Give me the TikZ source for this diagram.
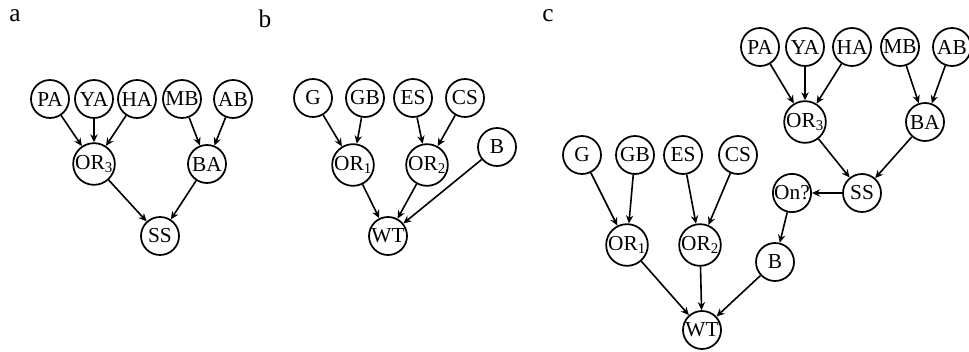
\documentclass[tikz,border=0pt]{standalone}
\usepackage{fontspec}
\setmainfont{Liberation Serif}
\usetikzlibrary{arrows.meta}
\begin{document}
\begin{tikzpicture}[x=0.75pt,y=-0.75pt,
  var/.style={circle,draw,line width=1.3pt,minimum size=28.5pt,inner sep=0pt,font=\fontsize{16}{18}\selectfont},
  edge/.style={-{Stealth[length=6pt,width=5.5pt]},line width=1.2pt},
  panel/.style={font=\fontsize{19}{21}\selectfont}]
\useasboundingbox (0,0) rectangle (969,352);

% panel labels
\node[panel] (la) at (15,16) {a};
\node[panel] (lb) at (265,19) {b};
\node[panel] (lc) at (548,16) {c};

% (a) sensor-based subnetwork
\node[var] (aPA) at (50,99) {PA};
\node[var] (aYA) at (94,99) {YA};
\node[var] (aHA) at (137,99) {HA};
\node[var] (aMB) at (182,99) {MB};
\node[var] (aAB) at (233,99) {AB};
\node[var] (aOR) at (94,164) {OR\textsubscript{3}};
\node[var] (aBA) at (207,164) {BA};
\node[var] (aSS) at (160,236) {SS};
\foreach \s in {aPA,aYA,aHA} \draw[edge] (\s) -- (aOR);
\foreach \s in {aMB,aAB} \draw[edge] (\s) -- (aBA);
\draw[edge] (aOR) -- (aSS);
\draw[edge] (aBA) -- (aSS);

% (b) water-temperature subnetwork
\node[var] (bG) at (313,98) {G};
\node[var] (bGB) at (365,98) {GB};
\node[var] (bES) at (413,98) {ES};
\node[var] (bCS) at (465,98) {CS};
\node[var] (bB) at (497,147) {B};
\node[var] (bORa) at (353,165) {OR\textsubscript{1}};
\node[var] (bORb) at (427,165) {OR\textsubscript{2}};
\node[var] (bWT) at (388,236) {WT};
\foreach \s in {bG,bGB} \draw[edge] (\s) -- (bORa);
\foreach \s in {bES,bCS} \draw[edge] (\s) -- (bORb);
\foreach \s in {bORa,bORb,bB} \draw[edge] (\s) -- (bWT);

% (c) combined network
\node[var] (cPA) at (760,47) {PA};
\node[var] (cYA) at (805,47) {YA};
\node[var] (cHA) at (852,47) {HA};
\node[var] (cMB) at (900,47) {MB};
\node[var] (cAB) at (952,47) {AB};
\node[var] (cORc) at (805,122) {OR\textsubscript{3}};
\node[var] (cBA) at (925,122) {BA};
\node[var] (cSS) at (862,193) {SS};
\node[var] (cOn) at (792,193) {On?};
\node[var] (cB) at (775,262) {B};
\node[var] (cG) at (582,155) {G};
\node[var] (cGB) at (635,155) {GB};
\node[var] (cES) at (683,155) {ES};
\node[var] (cCS) at (738,155) {CS};
\node[var] (cORa) at (627,245) {OR\textsubscript{1}};
\node[var] (cORb) at (700,245) {OR\textsubscript{2}};
\node[var] (cWT) at (702,330) {WT};
\foreach \s in {cPA,cYA,cHA} \draw[edge] (\s) -- (cORc);
\foreach \s in {cMB,cAB} \draw[edge] (\s) -- (cBA);
\draw[edge] (cORc) -- (cSS);
\draw[edge] (cBA) -- (cSS);
\draw[edge] (cSS) -- (cOn);
\draw[edge] (cOn) -- (cB);
\foreach \s in {cG,cGB} \draw[edge] (\s) -- (cORa);
\foreach \s in {cES,cCS} \draw[edge] (\s) -- (cORb);
\foreach \s in {cORa,cORb,cB} \draw[edge] (\s) -- (cWT);
\end{tikzpicture}
\end{document}
